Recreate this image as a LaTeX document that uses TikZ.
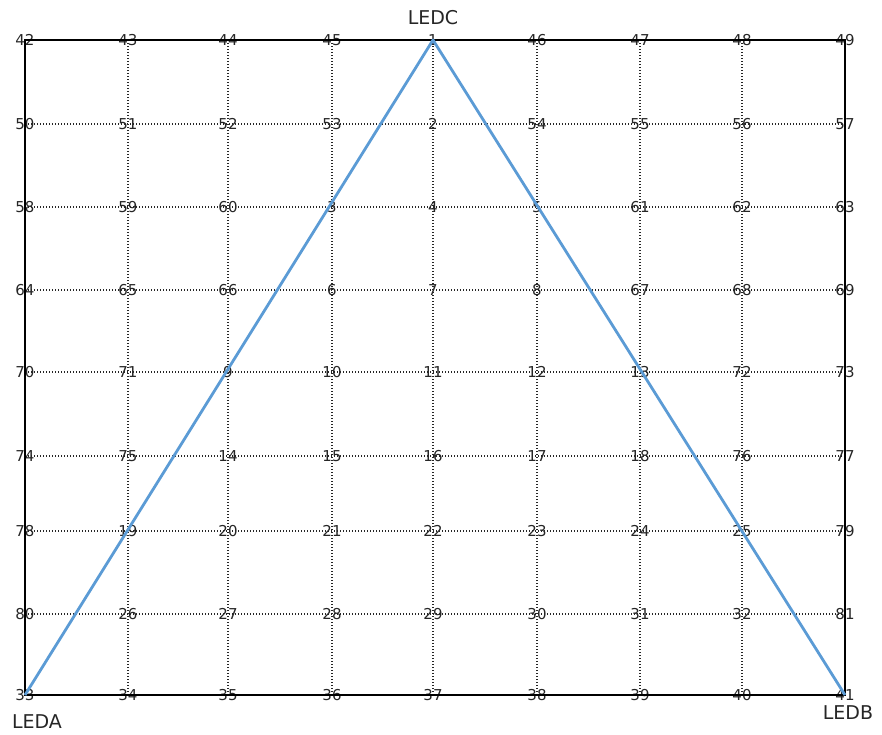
\documentclass[tikz,border=0pt]{standalone}
\usepackage{fontspec}
\setmainfont{DejaVu Sans}
\usetikzlibrary{positioning}
\definecolor{ledblue}{RGB}{91,155,213}
\tikzset{
  pt/.style={inner sep=0pt, font=\fontsize{15}{15}\selectfont, text=black!85},
  led/.style={inner sep=0pt, font=\fontsize{19}{19}\selectfont, text=black!85},
  gridline/.style={line width=1.2pt, dash pattern=on 1.2pt off 1.8pt, black!85},
  frame/.style={line width=2.8pt, black},
  tri/.style={line width=2.8pt, ledblue, line join=round}}
\begin{document}
\begin{tikzpicture}[x=1pt, y=-1pt]
  \useasboundingbox (0,0) rectangle (882,734);
  % numbered points, row by row
  \foreach \yy/\row in {40/{42,43,44,45,1,46,47,48,49}, 124/{50,51,52,53,2,54,55,56,57},
      207/{58,59,60,3,4,5,61,62,63}, 290/{64,65,66,6,7,8,67,68,69},
      372/{70,71,9,10,11,12,13,72,73}, 456/{74,75,14,15,16,17,18,76,77},
      531/{78,19,20,21,22,23,24,25,79}, 614/{80,26,27,28,29,30,31,32,81},
      695/{33,34,35,36,37,38,39,40,41}} {
    \foreach \lab [count=\i from 0] in \row {
      \pgfmathsetmacro\xx{{25,128,228,332,433,537,640,742,845}[\i]}
      \node[pt] (n\lab) at (\xx,\yy) {\lab};
    }
  }
  % dotted grid
  \foreach \a/\b in {50/57,58/63,64/69,70/73,74/77,78/79,80/81}
    \draw[gridline] (n\a.center) -- (n\b.center);
  \foreach \a/\b in {43/34,44/35,45/36,1/37,46/38,47/39,48/40}
    \draw[gridline] (n\a.center) -- (n\b.center);
  % frame and triangle
  \draw[frame] (n42.center) -- (n49.center) -- (n41.center) -- (n33.center) -- cycle;
  \draw[tri] (n33.center) -- (n1.center) -- (n41.center);
  \node[led, above=15pt of n1.center] (ledc) {LEDC};
  \node[led, below=19pt of n33.center, xshift=12pt] (leda) {LEDA};
  \node[led, below=10pt of n41.center, xshift=3pt] (ledb) {LEDB};
\end{tikzpicture}
\end{document}
